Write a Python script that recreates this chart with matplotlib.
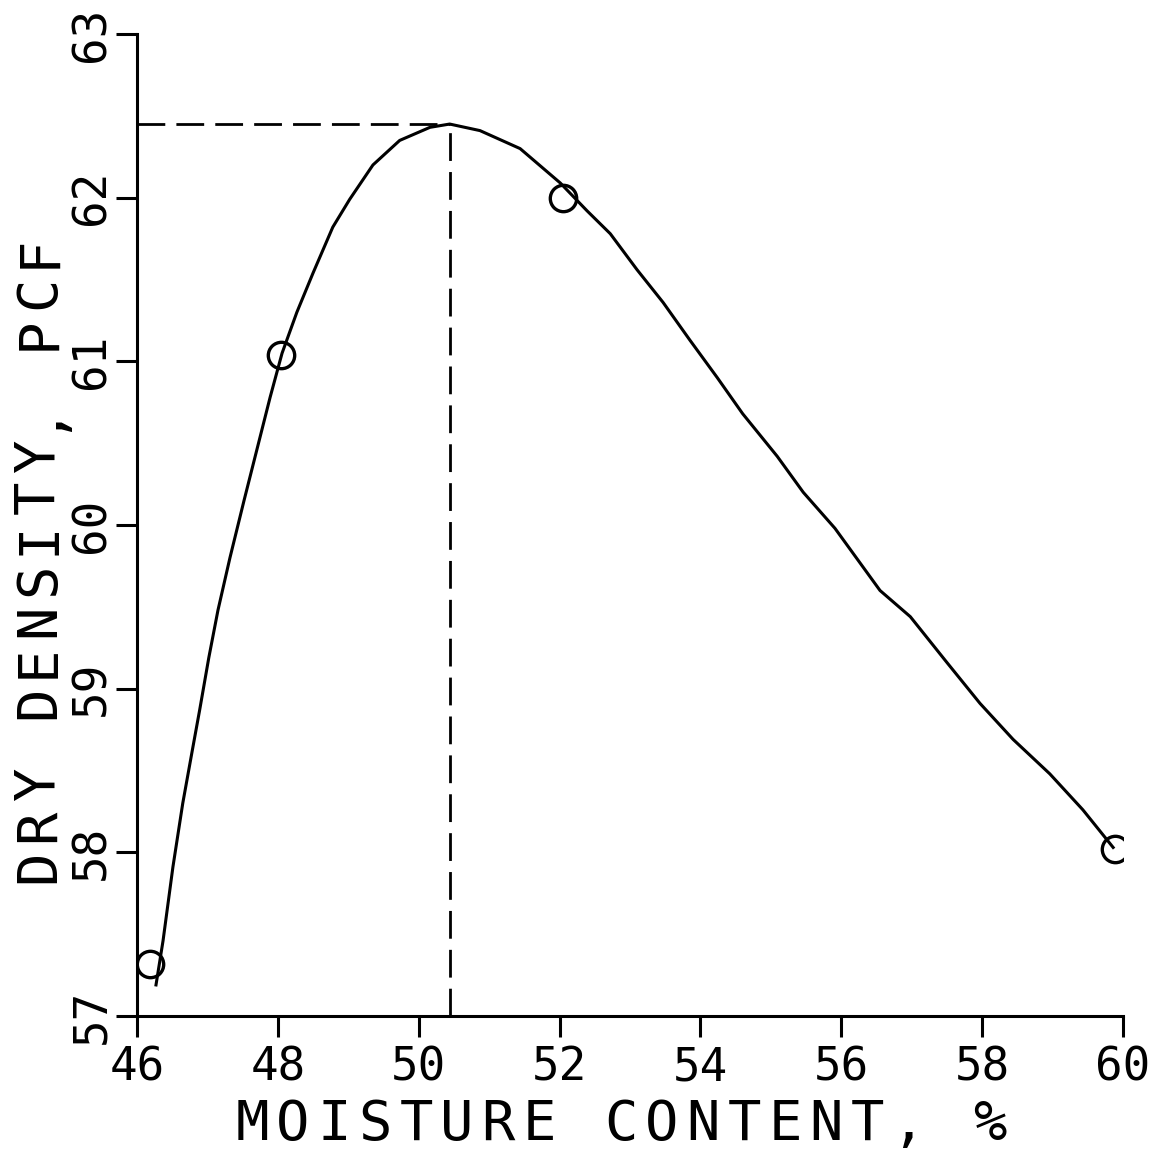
import matplotlib
matplotlib.use("Agg")
import matplotlib.pyplot as plt

# measured points (moisture %, dry density pcf)
moisture = [46.18, 48.05, 52.05, 59.88]
density = [57.32, 61.04, 62.00, 58.02]

# fitted compaction curve
curve_x = [46.27, 46.37, 46.51, 46.65, 46.78, 46.89, 47.02, 47.15, 47.32, 47.52,
           47.89, 48.06, 48.27, 48.50, 48.78, 49.02, 49.35, 49.73, 50.16, 50.44,
           50.87, 51.44, 52.01, 52.39, 52.72, 53.10, 53.47, 53.85, 54.24, 54.60,
           55.09, 55.46, 55.91, 56.55, 56.98, 57.50, 57.97, 58.44, 58.96, 59.43,
           59.86]
curve_y = [57.19, 57.46, 57.91, 58.30, 58.61, 58.87, 59.19, 59.48, 59.80, 60.15,
           60.78, 61.05, 61.30, 61.54, 61.82, 61.99, 62.20, 62.35, 62.43, 62.45,
           62.41, 62.30, 62.09, 61.92, 61.78, 61.56, 61.36, 61.13, 60.90, 60.68,
           60.42, 60.20, 59.98, 59.60, 59.44, 59.16, 58.91, 58.69, 58.48, 58.26,
           58.03]

# optimum moisture / max dry density
opt_moisture = 50.45
opt_density = 62.45

x_ticks = [46, 48, 50, 52, 54, 56, 58, 60]
y_ticks = [57, 58, 59, 60, 61, 62, 63]
x_label = "MOISTURE CONTENT, %"
y_label = "DRY DENSITY, PCF"

plt.rcParams["font.family"] = ["DejaVu Sans Mono"]

fig = plt.figure(figsize=(11.55, 11.5), dpi=100)
ax = fig.add_axes([0.1186, 0.1165, 0.8537, 0.8539])

ax.plot(curve_x, curve_y, color="black", lw=2.2, solid_joinstyle="round")
ax.plot(moisture, density, "o", ms=19, mfc="none", mec="black", mew=2.4)

ax.plot([x_ticks[0], opt_moisture], [opt_density, opt_density],
        color="black", lw=2.0, ls=(0, (10, 4)))
ax.plot([opt_moisture, opt_moisture], [y_ticks[0], opt_density],
        color="black", lw=2.0, ls=(0, (10, 4)))

ax.set_xlim(x_ticks[0], x_ticks[-1])
ax.set_ylim(y_ticks[0], y_ticks[-1])
ax.set_xticks(x_ticks)
ax.set_yticks(y_ticks)
ax.set_xticklabels([str(t) for t in x_ticks])
ax.set_yticklabels([str(t) for t in y_ticks], rotation=90, va="center")

for side in ["top", "right"]:
    ax.spines[side].set_visible(False)
for side in ["left", "bottom"]:
    ax.spines[side].set_linewidth(2.2)

ax.tick_params(direction="out", length=15, width=2.2, pad=6, labelsize=33)
ax.tick_params(axis="y", pad=1.5)


# plotter lettering is spaced wider than the font, so set it char by char
def spaced(s, x0, y0, step, vertical=False):
    for i, ch in enumerate(s):
        if vertical:
            fig.text(x0, y0 + i * step, ch, rotation=90, rotation_mode="anchor",
                     ha="center", va="baseline", fontsize=40)
        else:
            fig.text(x0 + i * step, y0, ch, ha="center", va="baseline", fontsize=40)


spaced(x_label, 252 / 1155, 1 - 1140 / 1150, 41 / 1155)
spaced(y_label, 54 / 1155, 1 - 866 / 1150, 41 / 1150, vertical=True)

plt.savefig("out.png", dpi=100)
